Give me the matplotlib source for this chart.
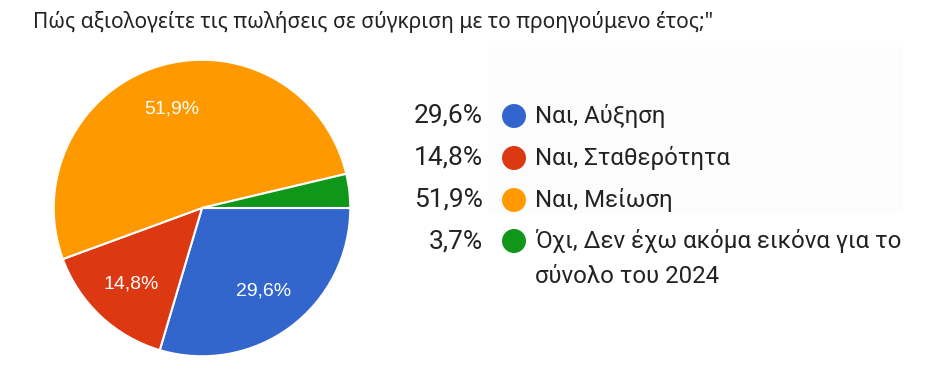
import matplotlib
matplotlib.use("Agg")
import matplotlib.pyplot as plt
from matplotlib.patches import Circle, Rectangle

title = "Πώς αξιολογείτε τις πωλήσεις σε σύγκριση με το προηγούμενο έτος;\""
categories = ["Ναι, Αύξηση", "Ναι, Σταθερότητα", "Ναι, Μείωση",
              "Όχι, Δεν έχω ακόμα εικόνα για το\nσύνολο του 2024"]
values = [29.6, 14.8, 51.9, 3.7]
colors = ["#3366cc", "#dc3912", "#ff9900", "#109618"]

W, H = 942, 369
fig = plt.figure(figsize=(W / 100, H / 100), dpi=100)
fig.patch.set_facecolor("white")

# overlay axes in pixel coords
ov = fig.add_axes([0, 0, 1, 1])
ov.set_xlim(0, W)
ov.set_ylim(H, 0)
ov.axis("off")

# very faint background box behind legend
ov.add_patch(Rectangle((488, 47), 415, 166, facecolor="#fcfcfc", edgecolor="none", zorder=0))

# pie
cx, cy, r = 202, 208, 149
pax = fig.add_axes([(cx - r) / W, (H - cy - r) / H, 2 * r / W, 2 * r / H])
pax.axis("off")


def fmt(p):
    return ("%.1f%%" % p).replace(".", ",") if p >= 5 else ""


wedges, texts, autotexts = pax.pie(
    values, colors=colors, startangle=0, counterclock=False,
    autopct=fmt, pctdistance=0.70, radius=1,
    wedgeprops=dict(edgecolor="white", linewidth=1.5),
    textprops=dict(color="white", fontsize=14, family="Liberation Sans"))
pax.set_xlim(-1.005, 1.005)
pax.set_ylim(-1.005, 1.005)

# title
ov.text(33, 22, title, fontsize=15.1, family="Noto Sans", color="#222222",
        ha="left", va="center")

# legend
row_y = [116, 158, 200, 241]
for v, lab, c, y in zip(values, categories, colors, row_y):
    ov.add_patch(Circle((514, y), 12, facecolor=c, edgecolor="none"))
    ov.text(483, y, ("%.1f%%" % v).replace(".", ","), fontsize=19,
            family="Roboto", color="#222222", ha="right", va="center")
    lines = lab.split("\n")
    for i, ln in enumerate(lines):
        ov.text(535, y + i * 35, ln, fontsize=17.3, family="Roboto",
                color="#222222", ha="left", va="center")

fig.savefig("out.png", dpi=100, facecolor="white")
